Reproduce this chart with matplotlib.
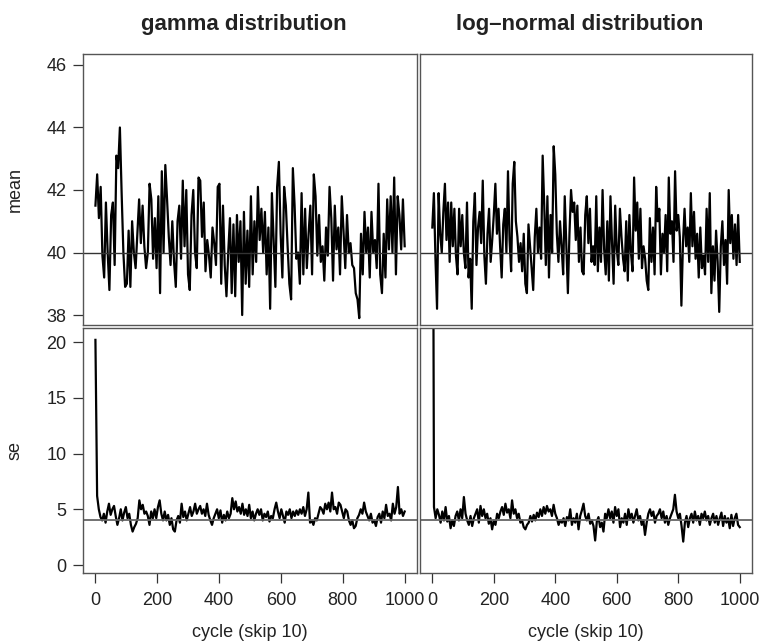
import numpy as np
import matplotlib
matplotlib.use('Agg')
import matplotlib.pyplot as plt

# Trace values (cycle 0..1000, skip 10)
gamma_mean = [41.5, 42.5, 41.1, 42.1, 39.9, 39.2, 41.6, 40.0, 38.8, 41.2, 41.6, 39.6, 43.1, 42.7, 44.0, 41.9,
              40.0, 38.9, 39.0, 40.7, 38.9, 41.0, 40.0, 39.5, 40.6, 41.7, 40.3, 41.5, 40.2, 39.5, 40.0, 42.2,
              41.7, 39.8, 41.1, 39.5, 41.8, 38.7, 42.6, 40.0, 42.8, 41.7, 40.5, 39.6, 41.0, 39.7, 38.9, 41.0,
              41.5, 39.8, 42.3, 40.2, 42.0, 39.3, 38.8, 41.2, 42.0, 40.0, 39.5, 42.4, 42.3, 40.5, 41.6, 39.4,
              40.4, 39.9, 39.2, 40.8, 40.3, 39.6, 42.1, 42.2, 39.0, 41.5, 39.6, 38.6, 40.0, 41.1, 38.7, 40.9,
              38.6, 41.2, 39.7, 41.0, 38.0, 41.3, 39.0, 40.7, 38.9, 41.8, 39.3, 41.0, 39.7, 42.1, 40.4, 41.4,
              40.0, 41.3, 39.3, 40.8, 38.2, 41.9, 40.4, 38.9, 42.1, 42.9, 40.6, 39.2, 42.1, 41.5, 40.2, 39.0,
              38.5, 42.7, 41.5, 39.8, 40.0, 39.0, 41.9, 39.3, 41.4, 39.5, 40.6, 41.5, 39.3, 42.5, 41.8, 39.9,
              41.2, 39.7, 40.2, 39.1, 40.8, 39.9, 42.1, 41.1, 39.1, 41.5, 40.1, 40.8, 39.3, 41.8, 40.7, 39.5,
              41.2, 40.0, 40.3, 39.6, 39.5, 38.7, 38.5, 37.9, 40.6, 39.3, 41.3, 40.0, 40.8, 39.2, 41.3, 40.0,
              40.4, 39.5, 42.2, 39.3, 38.7, 40.6, 39.2, 41.7, 40.1, 41.8, 40.0, 42.4, 39.3, 41.8, 41.2, 40.1,
              41.7, 40.2]

lnorm_mean = [40.8, 41.9, 39.8, 38.2, 41.9, 40.6, 40.0, 41.3, 42.2, 40.4, 41.6, 39.7, 41.6, 40.2, 41.4, 39.9,
              39.3, 41.4, 40.2, 41.2, 40.0, 39.5, 41.6, 39.2, 39.8, 38.2, 41.0, 41.9, 39.6, 40.8, 41.3, 40.3,
              42.3, 39.9, 39.0, 40.6, 41.4, 39.7, 40.4, 41.2, 42.2, 40.6, 41.4, 40.2, 39.2, 40.9, 41.4, 40.0,
              42.6, 40.4, 39.4, 42.2, 42.9, 41.0, 40.5, 39.7, 40.3, 39.4, 40.6, 39.0, 38.7, 40.9, 40.2, 39.5,
              38.8, 40.5, 41.4, 40.0, 40.8, 39.8, 43.1, 41.5, 39.6, 41.8, 39.2, 41.2, 40.0, 43.4, 42.5, 40.6,
              39.7, 41.0, 40.2, 39.3, 41.8, 40.3, 38.7, 40.6, 42.0, 41.3, 41.6, 40.4, 41.5, 39.7, 40.8, 39.4,
              39.3, 41.2, 41.8, 40.3, 41.4, 39.7, 40.2, 39.6, 41.8, 39.4, 40.8, 39.7, 42.0, 40.1, 39.3, 41.0,
              39.1, 41.8, 40.3, 39.0, 41.5, 40.1, 39.6, 41.4, 40.5, 39.8, 39.4, 41.0, 39.1, 41.2, 40.0, 39.4,
              42.4, 40.7, 41.6, 39.8, 41.4, 39.5, 40.2, 39.8, 39.1, 38.8, 41.1, 39.7, 40.8, 39.3, 42.1, 41.0,
              41.4, 39.3, 40.6, 40.0, 41.2, 39.4, 42.4, 40.6, 41.0, 39.7, 42.6, 40.7, 41.2, 40.5, 38.3, 40.3,
              41.4, 40.2, 40.8, 39.7, 41.9, 40.2, 41.3, 39.8, 40.6, 39.2, 40.8, 39.5, 39.9, 39.3, 41.4, 39.7,
              41.9, 38.7, 40.2, 39.1, 40.7, 39.7, 38.1, 40.2, 41.0, 39.6, 40.4, 39.0, 42.0, 40.3, 41.2, 39.8,
              40.9, 39.6, 41.2, 39.7]

gamma_se = [20.2,
            6.2, 5.0, 4.3, 4.0, 4.6, 3.8, 4.8, 5.5, 4.5, 5.0, 5.3, 4.4, 3.6, 4.2, 5.0,
            4.0, 4.7, 5.2, 4.2, 4.6, 3.6, 3.0, 3.4, 3.7, 4.2, 5.8, 5.0, 5.4, 4.6, 4.8,
            4.4, 3.6, 4.8, 4.2, 5.0, 4.2, 5.2, 5.8, 4.6, 4.0, 4.8, 4.0, 4.5, 3.6, 4.2,
            3.2, 3.0, 4.0, 4.4, 3.8, 5.5, 4.3, 4.8, 4.0, 4.6, 5.2, 4.4, 4.8, 5.5, 4.6,
            5.0, 5.3, 4.6, 5.0, 4.4, 5.5, 4.5, 4.0, 3.6, 4.2, 4.6, 5.0, 4.2, 4.9, 3.8,
            4.5, 4.0, 4.8, 4.2, 4.6, 6.0, 5.0, 5.7, 4.8, 5.2, 4.6, 5.5, 4.5, 5.0, 4.4,
            5.4, 4.2, 4.8, 4.0, 4.6, 5.0, 4.5, 5.0, 4.0, 4.6, 4.3, 4.8, 3.9, 4.4, 4.2,
            5.0, 5.6, 4.8, 4.2, 5.0, 4.4, 3.8, 4.8, 4.5, 5.0, 4.2, 4.8, 4.4, 4.9, 4.5,
            5.0, 4.6, 5.2, 4.4, 5.0, 6.5, 3.8, 4.0, 3.6, 4.2, 4.0, 4.6, 5.2, 5.0, 4.6,
            5.5, 5.0, 5.6, 4.8, 6.5, 5.0, 5.2, 4.6, 5.6, 5.4, 4.8, 4.2, 5.0, 4.8, 4.0,
            3.6, 4.0, 3.3, 3.5, 4.2, 4.5, 5.0, 4.6, 5.6, 4.8, 4.4, 4.0, 4.6, 3.8, 4.0,
            3.5, 4.3, 4.6, 3.8, 4.8, 4.2, 5.4, 4.4, 4.6, 4.0, 5.5, 4.6, 5.2, 7.0, 4.6,
            5.0, 4.4, 4.8]

lnorm_se = [60.0,
            5.2, 4.2, 5.0, 4.5, 3.8, 4.8, 4.0, 5.2, 3.9, 4.4, 3.3, 4.0, 3.5, 4.4, 4.8,
            4.0, 5.0, 4.2, 6.1, 4.6, 4.0, 3.6, 4.4, 3.5, 4.2, 4.6, 5.0, 3.8, 5.3, 4.4,
            5.0, 4.2, 4.6, 3.7, 4.2, 3.2, 4.0, 3.6, 4.6, 4.2, 4.8, 5.2, 4.5, 5.5, 4.7,
            5.0, 4.2, 5.8, 4.6, 5.0, 4.2, 4.6, 3.8, 4.0, 3.4, 3.2, 3.6, 3.8, 4.4, 3.9,
            4.5, 4.0, 4.7, 4.3, 5.0, 4.4, 5.2, 4.6, 5.3, 4.8, 5.0, 4.4, 5.4, 4.6, 4.2,
            3.6, 4.0, 3.8, 4.2, 3.5, 4.3, 4.0, 5.0, 3.6, 4.2, 3.8, 4.6, 3.2, 4.4, 4.9,
            5.5, 4.4, 4.0, 4.6, 3.7, 4.0, 3.5, 2.2, 3.9, 4.3, 3.4, 3.8, 3.0, 4.6, 4.2,
            5.0, 4.2, 4.8, 3.8, 5.2, 4.4, 5.0, 3.4, 4.2, 3.8, 4.6, 3.6, 5.0, 4.2, 4.6,
            3.8, 4.4, 5.0, 4.0, 4.4, 3.6, 4.0, 2.7, 3.8, 4.6, 5.0, 4.4, 4.8, 3.8, 4.4,
            4.6, 5.0, 4.2, 4.8, 3.8, 4.4, 3.6, 4.2, 4.6, 5.0, 6.3, 4.8, 4.2, 4.6, 3.5,
            2.1, 3.8, 4.4, 3.4, 4.2, 4.6, 3.8, 4.8, 4.0, 4.4, 3.6, 4.6, 4.2, 4.8, 4.0,
            4.4, 3.6, 4.2, 4.6, 3.8, 4.4, 3.6, 4.2, 4.7, 3.5, 4.4, 3.8, 4.2, 3.3, 4.5,
            3.5, 4.2, 4.6, 3.6, 3.4]

titles = ['gamma distribution', 'log\u2013normal distribution']
ref_mean = 40
ref_se = 4
x_ticks = [0, 200, 400, 600, 800, 1000]
mean_ticks = [38, 40, 42, 44, 46]
se_ticks = [0, 5, 10, 15, 20]

plt.rcParams['font.family'] = ['Liberation Sans', 'DejaVu Sans']
plt.rcParams['font.size'] = 13

fig = plt.figure(figsize=(7.62, 6.44), dpi=100)

# panel boxes in figure fractions: [left, bottom, width, height]
lefts = [0.109, 0.5512]
widths = [0.4383, 0.4357]
top_box = (0.4953, 0.4208)
bot_box = (0.1102, 0.3804)

frame_col = '#555555'

def style(ax):
    for s in ax.spines.values():
        s.set_color(frame_col)
        s.set_linewidth(1.0)
    ax.tick_params(direction='out', length=7, width=0.9, color='#333333',
                   labelcolor='#222222', pad=5, labelsize=13)

series = [(gamma_mean, gamma_se), (lnorm_mean, lnorm_se)]

for j in range(2):
    m, s = series[j]
    # top row: mean
    ax = fig.add_axes([lefts[j], top_box[0], widths[j], top_box[1]])
    style(ax)
    ax.plot(np.linspace(0, 1000, len(m)), m, color='black', lw=1.6)
    ax.axhline(ref_mean, color='#333333', lw=1.0)
    ax.set_xlim(-40, 1040)
    ax.set_ylim(37.68, 46.35)
    ax.set_xticks([])
    if j == 0:
        ax.set_yticks(mean_ticks)
    else:
        ax.set_yticks([])
    # bottom row: se
    ax = fig.add_axes([lefts[j], bot_box[0], widths[j], bot_box[1]])
    style(ax)
    ax.plot(np.linspace(0, 1000, len(s)), s, color='black', lw=1.6)
    ax.axhline(ref_se, color='#666666', lw=1.3)
    ax.set_xlim(-40, 1040)
    ax.set_ylim(-0.72, 21.26)
    ax.set_xticks(x_ticks)
    ax.tick_params(axis='x', pad=7)
    if j == 0:
        ax.set_yticks(se_ticks)
    else:
        ax.set_yticks([])
    # titles and x labels
    cx = lefts[j] + widths[j] / 2
    fig.text(cx - 0.008, 0.962, titles[j], ha='center', va='center',
             fontsize=16, fontweight='bold', color='#222222')
    fig.text(cx, 0.018, 'cycle (skip 10)', ha='center', va='center', fontsize=13, color='#222222')

fig.text(0.02, 0.706, 'mean', rotation=90, ha='center', va='center', fontsize=13, color='#222222')
fig.text(0.02, 0.30, 'se', rotation=90, ha='center', va='center', fontsize=13, color='#222222')

plt.savefig('out.png', dpi=100)
